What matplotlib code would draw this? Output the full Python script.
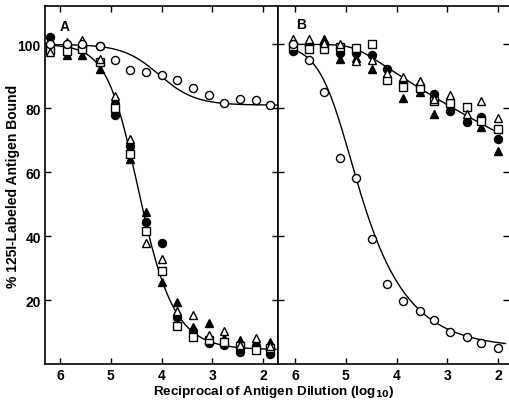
import numpy as np
import matplotlib
matplotlib.use("Agg")
import matplotlib.pyplot as plt

plt.rcParams['font.family'] = ['Liberation Sans', 'DejaVu Sans']
plt.rcParams['font.weight'] = 'bold'

# panel A: dilution steps (log10) and % bound
x_a = [6.2, 5.87, 5.56, 5.21, 4.92, 4.62, 4.31, 4.0, 3.69, 3.38, 3.07, 2.78, 2.46, 2.15, 1.86]
a_open_circ = [100, 100, 100, 99.5, 95.0, 91.9, 91.3, 90.3, 88.8, 86.5, 84.2, 81.8, 82.8, 82.5, 80.9]
a_fill_circ = [102.2, 99.5, 99.2, 99.5, 77.8, 68.2, 44.5, 38.0, 14.6, 10.4, 6.5, 5.8, 3.6, 5.5, 3.2]
a_fill_tri = [99.5, 96.8, 96.8, 92.2, 82.8, 64.0, 47.7, 25.7, 19.3, 11.5, 12.7, 8.2, 7.5, 6.0, 6.8]
a_open_sq = [98.3, 98.0, 98.6, 94.5, 80.2, 65.6, 41.6, 29.2, 12.0, 8.6, 7.5, 7.0, 5.5, 4.3, 5.0]
a_open_tri = [97.5, 100.8, 101.5, 95.5, 83.9, 70.5, 38.0, 32.8, 16.7, 15.4, 9.2, 10.3, 6.1, 8.2, 5.5]

# panel B
x_b = [6.03, 5.72, 5.42, 5.11, 4.80, 4.49, 4.18, 3.87, 3.55, 3.26, 2.95, 2.62, 2.34, 2.01]
b_open_circ = [100.2, 95.1, 85.2, 64.6, 58.3, 39.0, 25.0, 19.6, 16.7, 13.9, 9.9, 8.6, 6.7, 5.0]
b_fill_circ = [97.9, 99.5, 100.0, 97.4, 97.2, 96.6, 92.2, 88.0, 87.0, 84.4, 79.2, 75.7, 77.4, 70.3]
b_fill_tri = [100.0, 100.5, 101.6, 95.5, 95.8, 92.2, 90.0, 83.3, 85.0, 78.3, 80.0, 77.0, 74.0, 66.7]
b_open_sq = [99.5, 98.4, 98.4, 99.3, 98.9, 100.0, 89.0, 86.8, 86.5, 82.3, 81.8, 80.5, 76.0, 73.4]
b_open_tri = [101.6, 101.6, 100.5, 100.0, 94.8, 95.1, 91.0, 89.8, 88.5, 83.0, 84.2, 78.1, 82.3, 76.9]

# fitted curves: (top, bottom, x0, k, m, x_start, x_end)
fit_a_upper = (100, 81, 4.05, 2.8, 1.0, 6.2, 1.72)
fit_a_lower = (100, 4.5, 4.58, 3.4, 0.7, 6.2, 1.75)
fit_b_steep = (100, 5, 5.2, 3.6, 0.35, 6.03, 1.86)
fit_b_flat = (100, 0, 4.84, 6.0, 0.019, 6.03, 1.96)

xticks = [6, 5, 4, 3, 2]
yticks = [20, 40, 60, 80, 100]


def richards(x, top, bottom, x0, k, m):
    return bottom + (top - bottom) / (1 + np.exp(-k * (x - x0))) ** m


def draw_fit(ax, p):
    top, bottom, x0, k, m, xs, xe = p
    xx = np.linspace(xs, xe, 300)
    ax.plot(xx, richards(xx, top, bottom, x0, k, m), color='black', lw=1.0, zorder=2)


def draw_points(ax, x, fc, ft, osq, otri, oc):
    ms = 5.8
    ax.plot(x, fc, 'o', ms=ms, mfc='black', mec='black', mew=1, zorder=3)
    ax.plot(x, ft, '^', ms=ms + 0.6, mfc='black', mec='black', mew=1, zorder=3)
    ax.plot(x, osq, 's', ms=ms - 0.6, mfc='white', mec='black', mew=1, zorder=4)
    ax.plot(x, otri, '^', ms=ms + 0.6, mfc='white', mec='black', mew=1, zorder=4)
    ax.plot(x, oc, 'o', ms=ms, mfc='white', mec='black', mew=1, zorder=4)


def style(ax, xlim):
    ax.set_xlim(*xlim)
    ax.set_ylim(0, 112)
    ax.set_xticks(xticks)
    ax.set_yticks(yticks)
    ax.tick_params(direction='in', length=4, width=1, top=True, right=True,
                   labelsize=10, pad=3)
    for s in ax.spines.values():
        s.set_linewidth(1.2)


fig = plt.figure(figsize=(5.10, 4.02), dpi=100)
ax_a = fig.add_axes([45 / 510, 1 - 365 / 402, 233 / 510, 358 / 402])
ax_b = fig.add_axes([278 / 510, 1 - 365 / 402, 231.5 / 510, 358 / 402])

draw_fit(ax_a, fit_a_upper)
draw_fit(ax_a, fit_a_lower)
draw_points(ax_a, x_a, a_fill_circ, a_fill_tri, a_open_sq, a_open_tri, a_open_circ)
style(ax_a, (6.295, 1.711))
ax_a.text(0.085, 0.945, 'A', transform=ax_a.transAxes, fontsize=10, fontweight='bold',
          ha='center', va='center')

draw_fit(ax_b, fit_b_steep)
draw_fit(ax_b, fit_b_flat)
draw_points(ax_b, x_b, b_fill_circ, b_fill_tri, b_open_sq, b_open_tri, b_open_circ)
style(ax_b, (6.334, 1.78))
ax_b.set_yticklabels([])
ax_b.spines['right'].set_visible(False)
ax_b.text(0.10, 0.95, 'B', transform=ax_b.transAxes, fontsize=10, fontweight='bold',
          ha='center', va='center')

fig.text(13 / 510, 1 - 186 / 402, '% 125I-Labeled Antigen Bound', rotation=90,
         fontsize=10, fontweight='bold', ha='center', va='center')
fig.text(274 / 510, 1 - 392 / 402, 'Reciprocal of Antigen Dilution (log$_{\\mathbf{10}}$)',
         fontsize=9.7, fontweight='bold', ha='center', va='center')

fig.savefig('out.png', dpi=100)
